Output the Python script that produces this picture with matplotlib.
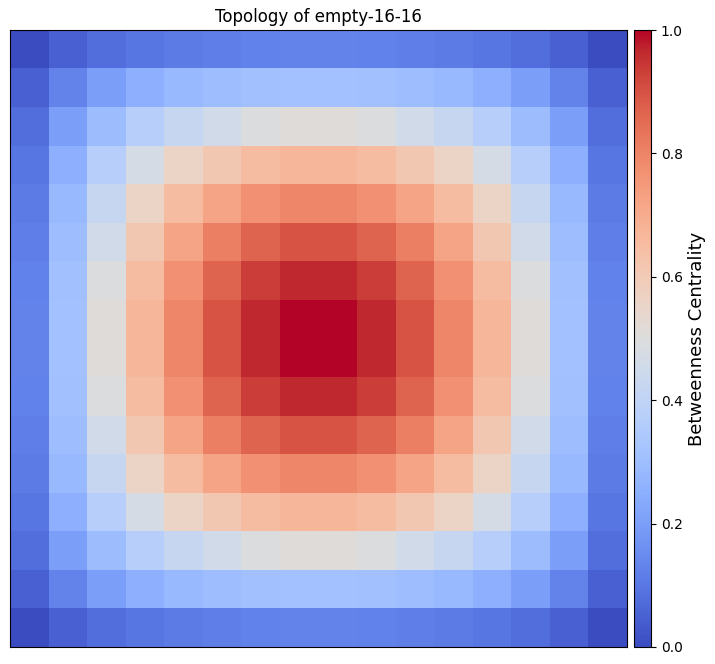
"""Betweenness centrality heatmap for the empty-16-16 map."""

import numpy as np
import matplotlib
matplotlib.use("Agg")
import matplotlib.pyplot as plt

TITLE = "Topology of empty-16-16"
CBAR_LABEL = "Betweenness Centrality"
CBAR_TICKS = [0.0, 0.2, 0.4, 0.6, 0.8, 1.0]

# values, one row per grid row
centrality = [
    [0.00, 0.05, 0.08, 0.10, 0.11, 0.12, 0.125, 0.13, 0.13, 0.125, 0.12, 0.11, 0.10, 0.08, 0.05, 0.00],
    [0.05, 0.13, 0.20, 0.25, 0.285, 0.30, 0.31, 0.315, 0.315, 0.31, 0.30, 0.285, 0.25, 0.20, 0.13, 0.05],
    [0.08, 0.20, 0.295, 0.37, 0.425, 0.46, 0.495, 0.51, 0.51, 0.495, 0.46, 0.425, 0.37, 0.295, 0.20, 0.08],
    [0.10, 0.25, 0.37, 0.47, 0.56, 0.61, 0.65, 0.67, 0.67, 0.65, 0.61, 0.56, 0.47, 0.37, 0.25, 0.10],
    [0.11, 0.285, 0.425, 0.56, 0.65, 0.72, 0.77, 0.795, 0.795, 0.77, 0.72, 0.65, 0.56, 0.425, 0.285, 0.11],
    [0.12, 0.30, 0.46, 0.61, 0.72, 0.81, 0.865, 0.895, 0.895, 0.865, 0.81, 0.72, 0.61, 0.46, 0.30, 0.12],
    [0.125, 0.31, 0.495, 0.65, 0.77, 0.865, 0.935, 0.965, 0.965, 0.935, 0.865, 0.77, 0.65, 0.495, 0.31, 0.125],
    [0.13, 0.315, 0.51, 0.67, 0.795, 0.895, 0.965, 1.00, 1.00, 0.965, 0.895, 0.795, 0.67, 0.51, 0.315, 0.13],
    [0.13, 0.315, 0.51, 0.67, 0.795, 0.895, 0.965, 1.00, 1.00, 0.965, 0.895, 0.795, 0.67, 0.51, 0.315, 0.13],
    [0.125, 0.31, 0.495, 0.65, 0.77, 0.865, 0.935, 0.965, 0.965, 0.935, 0.865, 0.77, 0.65, 0.495, 0.31, 0.125],
    [0.12, 0.30, 0.46, 0.61, 0.72, 0.81, 0.865, 0.895, 0.895, 0.865, 0.81, 0.72, 0.61, 0.46, 0.30, 0.12],
    [0.11, 0.285, 0.425, 0.56, 0.65, 0.72, 0.77, 0.795, 0.795, 0.77, 0.72, 0.65, 0.56, 0.425, 0.285, 0.11],
    [0.10, 0.25, 0.37, 0.47, 0.56, 0.61, 0.65, 0.67, 0.67, 0.65, 0.61, 0.56, 0.47, 0.37, 0.25, 0.10],
    [0.08, 0.20, 0.295, 0.37, 0.425, 0.46, 0.495, 0.51, 0.51, 0.495, 0.46, 0.425, 0.37, 0.295, 0.20, 0.08],
    [0.05, 0.13, 0.20, 0.25, 0.285, 0.30, 0.31, 0.315, 0.315, 0.31, 0.30, 0.285, 0.25, 0.20, 0.13, 0.05],
    [0.00, 0.05, 0.08, 0.10, 0.11, 0.12, 0.125, 0.13, 0.13, 0.125, 0.12, 0.11, 0.10, 0.08, 0.05, 0.00],
]

W, H = 715, 664
fig = plt.figure(figsize=(W / 100, H / 100), dpi=100)

# axes boxes in pixels from the reference
ax = fig.add_axes([10 / W, 1 - 647 / H, 617 / W, 617 / H])
cax = fig.add_axes([634 / W, 1 - 647 / H, 17 / W, 617 / H])

im = ax.imshow(np.array(centrality), cmap="coolwarm", vmin=0, vmax=1, aspect="equal")
ax.set_xticks([])
ax.set_yticks([])
ax.set_title(TITLE, fontsize=12)

cbar = fig.colorbar(im, cax=cax)
cbar.set_ticks(CBAR_TICKS)
cbar.set_label(CBAR_LABEL, fontsize=13)
cbar.ax.tick_params(labelsize=10)

fig.savefig("out.png", dpi=100)
